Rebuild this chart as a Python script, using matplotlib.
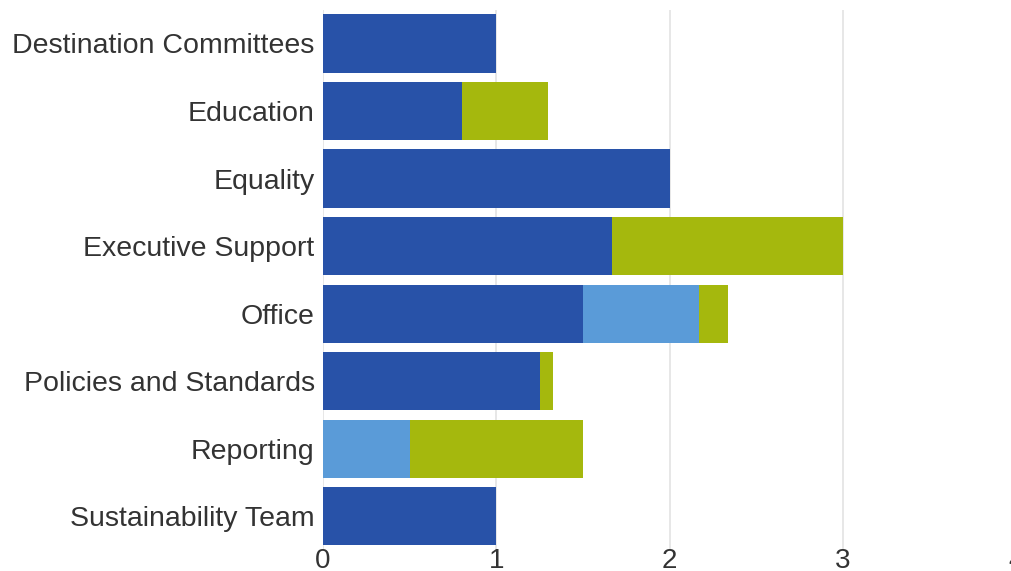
import matplotlib
matplotlib.use("Agg")
import matplotlib.pyplot as plt
import numpy as np

plt.rcParams['font.family'] = ['Liberation Sans', 'DejaVu Sans']

categories = ["Destination Committees", "Education", "Equality", "Executive Support",
              "Office", "Policies and Standards", "Reporting", "Sustainability Team"]
dark_vals = [1.0, 0.8, 2.0, 1.67, 1.5, 1.25, 0.0, 1.0]
light_vals = [0.0, 0.0, 0.0, 0.0, 0.67, 0.0, 0.5, 0.0]
green_vals = [0.0, 0.5, 0.0, 1.33, 0.17, 0.08, 1.0, 0.0]
x_ticks = [0, 1, 2, 3, 4]

colors = ["#2852a8", "#5a9bd8", "#a5b80d"]

fig = plt.figure(figsize=(10.11, 5.71), dpi=100)
ax = fig.add_axes([0.3195, 0.037, 0.6855, 0.946])

y = np.arange(len(categories))
left = np.zeros(len(categories))
for vals, c in zip([dark_vals, light_vals, green_vals], colors):
    vals = np.array(vals)
    ax.barh(y, vals, left=left, height=0.86, color=c, zorder=3)
    left += vals

ax.set_xlim(0, 4)
ax.set_ylim(len(categories) - 0.5, -0.5)
ax.set_yticks(y)
ax.set_yticklabels(categories, fontsize=20.5, color="#333333")
ax.set_xticks(x_ticks)
ax.set_xticklabels([str(t) for t in x_ticks], fontsize=20, color="#333333")
ax.tick_params(length=0, pad=6)
ax.tick_params(axis='x', pad=-1)
ax.xaxis.grid(True, color="#e3e3e3", linewidth=1.2, zorder=0)
for s in ax.spines.values():
    s.set_visible(False)

fig.savefig("out.png", dpi=100)
